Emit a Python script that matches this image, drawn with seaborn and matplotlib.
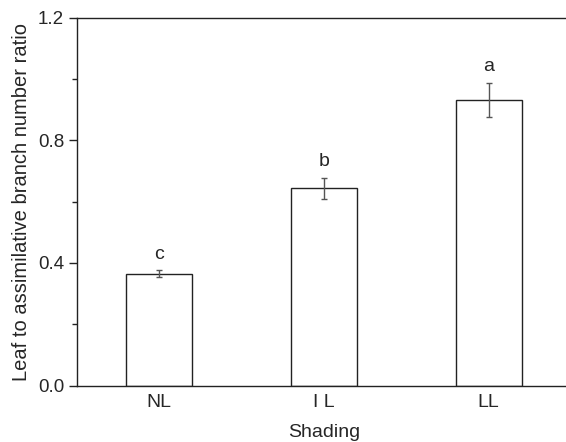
import numpy as np
import pandas as pd
import matplotlib
matplotlib.use("Agg")
import matplotlib.pyplot as plt
import seaborn as sns
from matplotlib.ticker import MultipleLocator, FormatStrFormatter

# ── Data ──────────────────────────────────────────────────────────────────────
shading = ["NL", "I L", "LL"]
ratio   = [0.365, 0.643, 0.931]
ratio_se = [0.012, 0.035, 0.056]
letters = ["c", "b", "a"]

df = pd.DataFrame({"Shading": shading, "ratio": ratio})

sns.set_style("ticks")
plt.rcParams["font.family"] = ["Liberation Sans", "DejaVu Sans"]

fig = plt.figure(figsize=(5.66, 4.42), dpi=100)
ax = fig.add_axes([0.1355, 0.1274, 0.8733, 0.833])

sns.barplot(data=df, x="Shading", y="ratio", color="white", width=0.4,
            edgecolor="#222222", linewidth=1.0, errorbar=None, ax=ax)
ax.errorbar(np.arange(len(shading)), ratio, yerr=ratio_se, fmt="none",
            ecolor="#555555", elinewidth=1.0, capsize=2.3, capthick=1.0)

for i, (v, e, t) in enumerate(zip(ratio, ratio_se, letters)):
    ax.text(i, v + e + 0.052, t, ha="center", va="center", fontsize=14)

ax.set_xlim(-0.5, 2.5)
ax.set_ylim(0, 1.2)
ax.yaxis.set_major_locator(MultipleLocator(0.4))
ax.yaxis.set_minor_locator(MultipleLocator(0.2))
ax.yaxis.set_major_formatter(FormatStrFormatter("%.1f"))

for s in ax.spines.values():
    s.set_linewidth(1.0)
    s.set_color("#222222")
    s.set_visible(True)

ax.tick_params(axis="y", which="major", direction="out", length=6,
               width=1.0, labelsize=13.5, pad=3, color="#222222")
ax.tick_params(axis="y", which="minor", direction="out", length=3.5,
               width=1.0, color="#222222")
ax.tick_params(axis="x", which="both", length=0, labelsize=14, pad=6)

ax.set_xlabel("Shading", fontsize=14, labelpad=9)
ax.set_ylabel("Leaf to assimilative branch number ratio", fontsize=14.5,
              labelpad=5)

fig.savefig("out.png", dpi=100)
